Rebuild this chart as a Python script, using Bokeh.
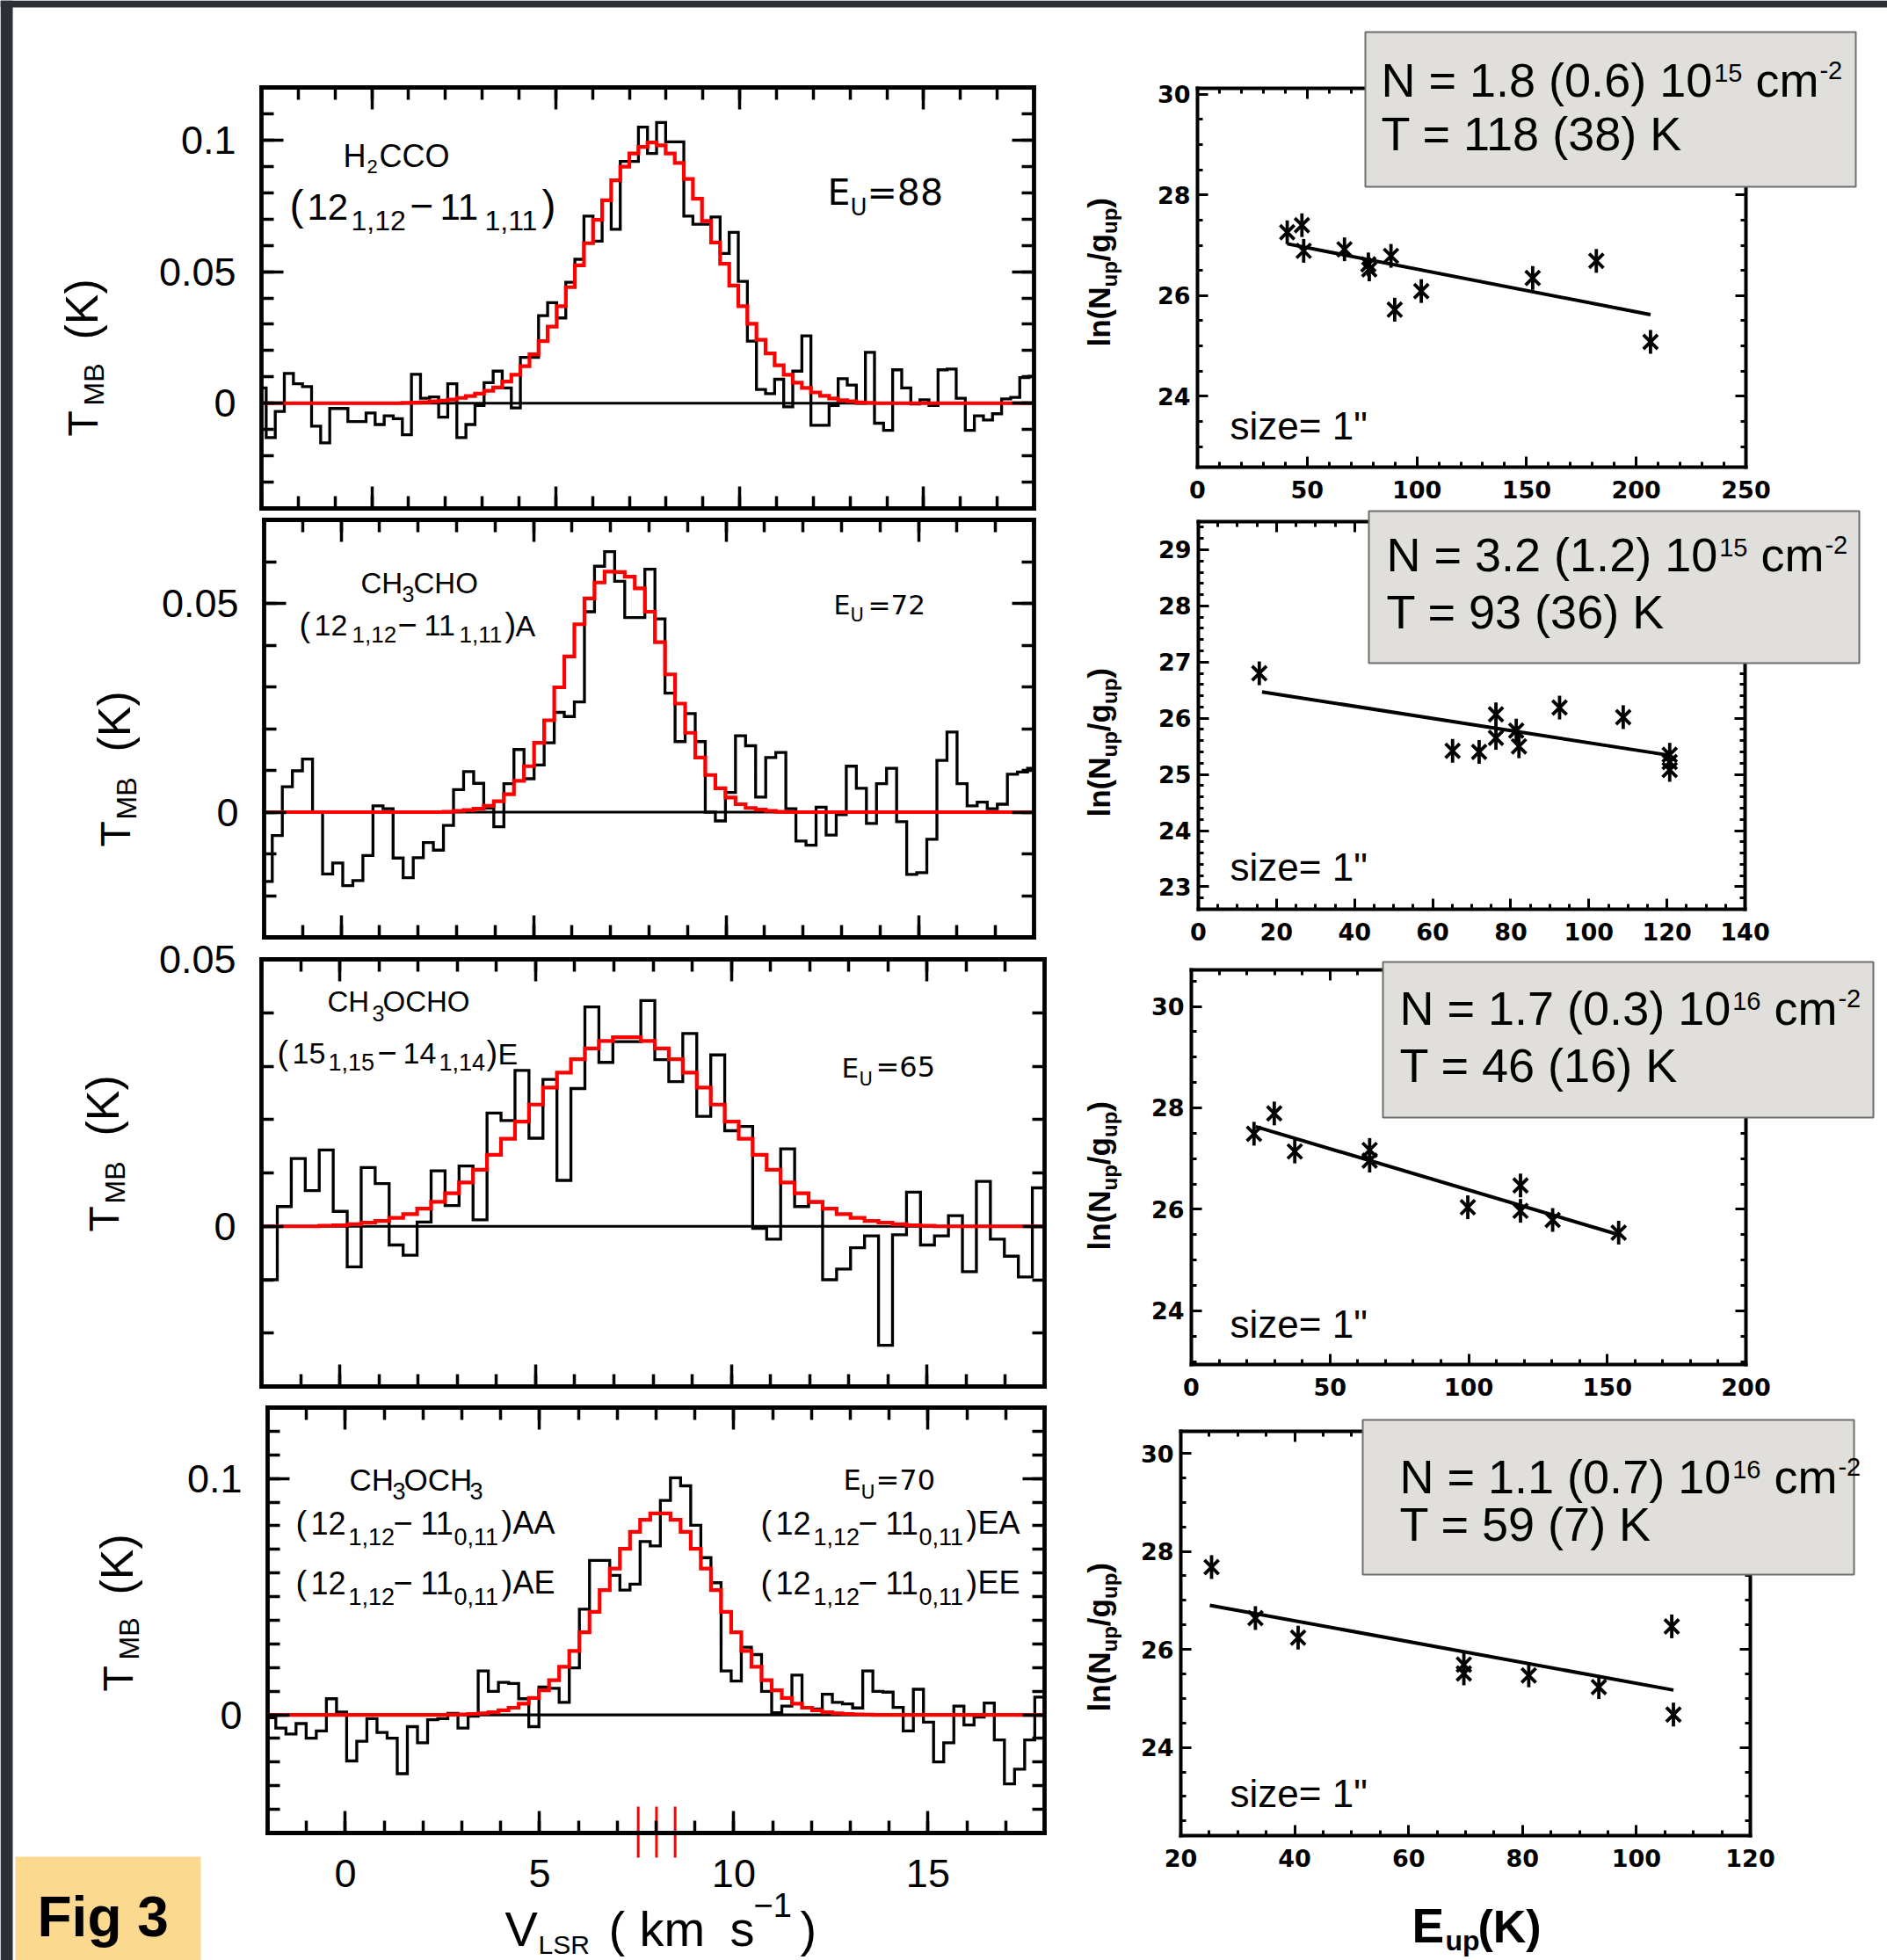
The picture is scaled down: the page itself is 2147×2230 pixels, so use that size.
import numpy as np
from bokeh.plotting import figure
from bokeh.models import (Range1d, LinearAxis, SingleIntervalTicker, NumeralTickFormatter,
                          CustomJSTickFormatter, Label, BoxAnnotation)
from bokeh.embed import file_html
from bokeh.resources import INLINE

# ---------------------------------------------------------------- data
# spectra: channel grid (first channel left edge, channel width) in km/s, T_MB in K
h2cco_chan = (-3.119, 0.2468)
h2cco_obs = [0.0058, -0.0131, -0.0031, 0.0113, 0.0074, 0.0063, -0.0087, -0.0151, -0.0020, -0.0020,
             -0.0070, -0.0070, -0.0037, -0.0081, -0.0048, -0.0059, -0.0120, 0.0110, 0.0019, 0.0024,
             -0.0053, 0.0074, -0.0131, -0.0081, -0.0009, 0.0078, 0.0122, 0.0058, -0.0018, 0.0174,
             0.0174, 0.0333, 0.0382, 0.0324, 0.0460, 0.0547, 0.0711, 0.0616, 0.0772, 0.0661,
             0.0919, 0.0919, 0.1049, 0.0949, 0.1067, 0.0993, 0.0993, 0.0711, 0.0680, 0.0680,
             0.0708, 0.0569, 0.0649, 0.0463, 0.0236, 0.0052, 0.0036, 0.0091, -0.0014, 0.0122,
             0.0256, -0.0084, -0.0084, -0.0009, 0.0093, 0.0069, 0.0000, 0.0193, -0.0076, -0.0103,
             0.0127, 0.0058, -0.0003, 0.0013, -0.0009, 0.0127, 0.0130, 0.0019, -0.0103, -0.0048,
             -0.0064, -0.0040, 0.0016, 0.0022, 0.0097, 0.0102, -0.0109]
h2cco_fit = [0, 0, 0, 0, 0, 0, 0, 0, 0, 0, 0, 0, 0, 0, 0, 0,
             0.0001, 0.0002, 0.0004, 0.0007, 0.0010, 0.0014, 0.0020, 0.0027, 0.0036, 0.0047,
             0.0060, 0.0082, 0.0108, 0.0141, 0.0186, 0.0236, 0.0291, 0.0369, 0.0441, 0.0524,
             0.0608, 0.0697, 0.0771, 0.0847, 0.0899, 0.0949, 0.0974, 0.0991, 0.0980, 0.0949,
             0.0913, 0.0852, 0.0777, 0.0693, 0.0611, 0.0530, 0.0447, 0.0369, 0.0302, 0.0241,
             0.0189, 0.0144, 0.0108, 0.0078, 0.0058, 0.0041, 0.0028, 0.0018, 0.0011, 0.0007,
             0.0003, 0.0001,
             0, 0, 0, 0, 0, 0, 0, 0, 0, 0, 0, 0, 0, 0, 0, 0, 0, 0, 0]

ch3cho_chan = (-2.05, 0.2616)
ch3cho_obs = [-0.0166, -0.0056, 0.0061, 0.0099, 0.0127, 0.0000, -0.0148, -0.0122, -0.0176, -0.0164,
              -0.0104, 0.0015, 0.0008, -0.0110, -0.0157, -0.0109, -0.0073, -0.0091, -0.0032, 0.0054,
              0.0097, 0.0069, 0.0010, -0.0035, 0.0068, 0.0150, 0.0080, 0.0113, 0.0166, 0.0239,
              0.0229, 0.0264, 0.0480, 0.0589, 0.0624, 0.0553, 0.0466, 0.0466, 0.0582, 0.0463,
              0.0285, 0.0169, 0.0236, 0.0169, 0.0000, -0.0021, 0.0047, 0.0183, 0.0159, 0.0036,
              0.0131, 0.0143, 0.0008, -0.0069, -0.0079, 0.0012, -0.0055, -0.0006, 0.0110, 0.0057,
              -0.0027, 0.0068, 0.0105, -0.0023, -0.0149, -0.0145, -0.0065, 0.0124, 0.0192, 0.0068,
              0.0015, 0.0024, 0.0008, 0.0019, 0.0091, 0.0096, 0.0105]
ch3cho_fit = [0, 0, 0, 0, 0, 0, 0, 0, 0, 0, 0, 0, 0, 0, 0, 0, 0, 0,
              0.0001, 0.0003, 0.0005, 0.0008, 0.0015, 0.0026, 0.0043, 0.0075, 0.0110, 0.0166,
              0.0220, 0.0299, 0.0373, 0.0450, 0.0512, 0.0550, 0.0576, 0.0575, 0.0564, 0.0536,
              0.0480, 0.0407, 0.0330, 0.0260, 0.0190, 0.0131, 0.0089, 0.0057, 0.0035, 0.0019,
              0.0010, 0.0006, 0.0003, 0.0001,
              0, 0, 0, 0, 0, 0, 0, 0, 0, 0, 0, 0, 0, 0, 0, 0, 0, 0, 0, 0, 0, 0, 0, 0, 0]

ch3ocho_chan = (-1.953, 0.3571)
ch3ocho_obs = [-0.0100, 0.0037, 0.0127, 0.0067, 0.0143, 0.0028, -0.0076, 0.0110, 0.0080, -0.0035,
               -0.0054, 0.0008, 0.0104, 0.0039, 0.0113, 0.0012, 0.0212, 0.0198, 0.0292, 0.0165,
               0.0275, 0.0086, 0.0258, 0.0411, 0.0307, 0.0346, 0.0346, 0.0423, 0.0312, 0.0271,
               0.0361, 0.0206, 0.0321, 0.0179, 0.0187, -0.0004, -0.0024, 0.0145, 0.0037, 0.0045,
               -0.0100, -0.0080, -0.0040, -0.0018, -0.0223, -0.0016, 0.0064, -0.0035, -0.0018, 0.0020,
               -0.0085, 0.0084, -0.0024, -0.0056, -0.0095, 0.0072]
ch3ocho_fit = [0, 0, 0, 0,
               0.0001, 0.0002, 0.0004, 0.0007, 0.0010, 0.0016, 0.0023, 0.0033, 0.0046, 0.0062,
               0.0082, 0.0106, 0.0134, 0.0164, 0.0196, 0.0228, 0.0260, 0.0288, 0.0313, 0.0333,
               0.0347, 0.0354, 0.0354, 0.0347, 0.0333, 0.0313, 0.0288, 0.0260, 0.0228, 0.0196,
               0.0164, 0.0134, 0.0106, 0.0082, 0.0062, 0.0046, 0.0033, 0.0023, 0.0016, 0.0010,
               0.0007, 0.0004, 0.0002, 0.0001,
               0, 0, 0, 0, 0, 0, 0, 0]

ch3och3_chan = (-2.05, 0.2605)
ch3och3_obs = [-0.0012, -0.0056, -0.0081, -0.0037, -0.0099, -0.0068, 0.0068, 0.0012, -0.0195, -0.0112,
               -0.0016, -0.0075, -0.0099, -0.0249, -0.0050, -0.0118, -0.0021, -0.0016, 0.0006, -0.0056,
               -0.0006, 0.0186, 0.0099, 0.0137, 0.0133, 0.0068, -0.0050, 0.0118, 0.0112, 0.0053,
               0.0199, 0.0447, 0.0653, 0.0653, 0.0590, 0.0528, 0.0553, 0.0733, 0.0715, 0.0907,
               0.1003, 0.0969, 0.0802, 0.0665, 0.0559, 0.0186, 0.0143, 0.0286, 0.0255, 0.0099,
               0.0009, 0.0037, 0.0168, 0.0031, 0.0025, 0.0087, 0.0053, 0.0046, 0.0029, 0.0186,
               0.0099, 0.0096, 0.0031, -0.0068, 0.0108, -0.0031, -0.0199, -0.0118, 0.0037, -0.0043,
               -0.0009, 0.0050, -0.0106, -0.0292, -0.0230, -0.0106, 0.0075]
ch3och3_fit = [0, 0, 0, 0, 0, 0, 0, 0, 0, 0, 0, 0, 0, 0, 0, 0, 0, 0,
               0.0001, 0.0002, 0.0004, 0.0006, 0.0011, 0.0019, 0.0030, 0.0047, 0.0071, 0.0104,
               0.0147, 0.0203, 0.0270, 0.0349, 0.0436, 0.0528, 0.0619, 0.0703, 0.0774, 0.0825,
               0.0852, 0.0852, 0.0825, 0.0774, 0.0703, 0.0619, 0.0528, 0.0436, 0.0349, 0.0270,
               0.0203, 0.0147, 0.0104, 0.0071, 0.0047, 0.0030, 0.0019, 0.0011, 0.0006, 0.0004,
               0.0002, 0.0001,
               0, 0, 0, 0, 0, 0, 0, 0, 0, 0, 0, 0, 0, 0, 0, 0, 0]
ch3och3_line_v = [7.54, 8.01, 8.49]

# rotation diagrams: E_up (K), ln(N_up/g_up), and the fitted line end points
h2cco_eup = [40.9, 47.6, 48.4, 67.0, 77.9, 78.3, 88.2, 89.9, 102.0, 152.8, 181.8, 206.5]
h2cco_ln = [27.26, 27.40, 26.89, 26.92, 26.62, 26.52, 26.79, 25.72, 26.09, 26.35, 26.69, 25.08]
h2cco_fit_e = [40.9, 206.5]
h2cco_fit_ln = [27.03, 25.62]

ch3cho_eup = [15.6, 65.1, 71.9, 76.2, 76.2, 81.4, 82.1, 92.5, 108.8, 120.7, 120.7, 120.7]
ch3cho_ln = [26.80, 25.42, 25.40, 26.07, 25.65, 25.78, 25.50, 26.19, 26.02, 25.35, 25.22, 25.08]
ch3cho_fit_e = [16.3, 120.7]
ch3cho_fit_ln = [26.47, 25.34]

ch3ocho_eup = [22.6, 29.9, 37.3, 64.3, 64.3, 99.7, 118.7, 118.7, 130.3, 154.1]
ch3ocho_ln = [27.49, 27.89, 27.14, 27.17, 26.96, 26.04, 26.47, 25.97, 25.79, 25.54]
ch3ocho_fit_e = [23.2, 154.1]
ch3ocho_fit_ln = [27.63, 25.50]

ch3och3_eup = [25.4, 33.1, 40.6, 69.7, 69.7, 81.1, 93.4, 106.2, 106.5]
ch3och3_ln = [27.68, 26.64, 26.24, 25.69, 25.51, 25.47, 25.23, 26.47, 24.67]
ch3och3_fit_e = [25.1, 106.5]
ch3och3_fit_ln = [26.90, 25.17]

box_texts = [("N = 1.8 (0.6) 10", "15", "T = 118 (38) K"),
             ("N = 3.2 (1.2) 10", "15", "T = 93 (36) K"),
             ("N = 1.7 (0.3) 10", "16", "T = 46 (16) K"),
             ("N = 1.1 (0.7) 10", "16", "T = 59 (7) K")]

# ---------------------------------------------------------------- page canvas
W, H = 2147, 2230
FONT = "Liberation Sans"
WIDE = "DejaVu Sans"
DARK = "#2c3038"
MINUS = "\u2212"

p = figure(width=W, height=H, x_range=Range1d(0, W), y_range=Range1d(H, 0),
           min_border_left=0, min_border_right=0, min_border_top=0, min_border_bottom=0,
           x_axis_location=None, y_axis_location=None, toolbar_location=None,
           output_backend="svg", title=None)
p.grid.visible = False
p.outline_line_color = None
p.background_fill_color = "white"
p.border_fill_color = "white"

PANELS = {}
xranges, yranges = {}, {}


def panel(name, l, t, r, b, xr, yr):
    x0, x1 = xr
    y0, y1 = yr
    sx = (x1 - x0) / (r - l)
    sy = (y1 - y0) / (b - t)
    xranges[name + "x"] = Range1d(x0 - l * sx, x1 + (W - r) * sx)
    yranges[name + "y"] = Range1d(y0 - (H - b) * sy, y1 + t * sy)
    PANELS[name] = (xr, yr)


panel("L1", 297, 99, 1176, 578, (-3.0, 18.0), (-0.04, 0.12))
panel("L2", 300, 591, 1176, 1066, (-2.0, 18.0), (-0.03, 0.07))
panel("L3", 297, 1091, 1188, 1577, (-2.0, 18.0), (-0.03, 0.05))
panel("L4", 304, 1601, 1188, 2085, (-2.0, 18.0), (-0.05, 0.13))
panel("R1", 1362, 100, 1986, 531, (0.0, 250.0), (22.59, 30.12))
panel("R2", 1363, 593, 1985, 1034, (0.0, 140.0), (22.6, 29.5))
panel("R3", 1355, 1103, 1986, 1552, (0.0, 200.0), (22.94, 30.72))
panel("R4", 1343, 1628, 1991, 2088, (20.0, 120.0), (22.2, 30.45))
p.extra_x_ranges = xranges
p.extra_y_ranges = yranges


def kw(name):
    return dict(x_range_name=name + "x", y_range_name=name + "y")


def frame_axes(name, xt, xm, yt, ym, show_x, maj, mnr, lw, tlw, font, size, xsize, style, xs, ys, yfmt=None):
    xr, yr = PANELS[name]
    for side, loc, bounds, tick, nminor, show, stand, fmt, fs in [
            ("below", yr[0], xr, xt, xm, show_x, xs, None, xsize),
            ("above", yr[1], xr, xt, xm, False, 0, None, size),
            ("left", xr[0], yr, yt, ym, True, ys, yfmt, size),
            ("right", xr[1], yr, yt, ym, False, 0, None, size)]:
        ax = LinearAxis(fixed_location=loc, bounds=bounds,
                        ticker=SingleIntervalTicker(interval=tick, num_minor_ticks=nminor), **kw(name))
        ax.axis_line_color = "black"
        ax.axis_line_width = lw
        ax.axis_line_cap = "square"
        ax.major_tick_in = maj
        ax.major_tick_out = 0
        ax.minor_tick_in = mnr
        ax.minor_tick_out = 0
        ax.major_tick_line_width = tlw
        ax.minor_tick_line_width = tlw
        ax.major_tick_line_color = "black"
        ax.minor_tick_line_color = "black"
        if show:
            ax.major_label_text_font = font
            ax.major_label_text_font_size = f"{fs}px"
            ax.major_label_text_font_style = style
            ax.major_label_text_color = "black"
            ax.major_label_standoff = stand
            if fmt is not None:
                ax.formatter = fmt
        else:
            ax.major_label_text_font_size = "0px"
            ax.major_label_standoff = 0
            ax.formatter = CustomJSTickFormatter(code="return ''")
        p.add_layout(ax, side)


def steps(chan, vals, xr):
    vals = np.asarray(vals, dtype=float)
    edges = np.clip(chan[0] + chan[1] * np.arange(len(vals) + 1), xr[0], xr[1])
    return np.repeat(edges, 2)[1:-1], np.repeat(vals, 2)


def spectrum(name, chan, obs, fit, ytick, show_x):
    xr, yr = PANELS[name]
    p.line(list(xr), [0, 0], line_color="black", line_width=3.2, **kw(name))
    xs, ys = steps(chan, obs, xr)
    p.line(xs, ys, line_color="black", line_width=3.3, line_join="miter", **kw(name))
    xs, ys = steps(chan, fit, xr)
    p.line(xs, ys, line_color="red", line_width=4.2, line_join="miter", **kw(name))
    frame_axes(name, 5, 5, ytick, int(round(ytick / 0.01)), show_x, 25, 14, 4.8, 3.5,
               FONT, 45, 45, "normal", 30, 29, NumeralTickFormatter(format="0.[00]"))


def rotation(name, eup, lnv, fe, fl_, xt, xm, yt, ym):
    p.line(fe, fl_, line_color="black", line_width=4, **kw(name))
    p.scatter(eup, lnv, marker="x", size=23, line_width=3.8, line_color="black", **kw(name))
    p.scatter(eup, lnv, marker="dash", angle=np.pi / 2, size=27, line_width=3.8, line_color="black", **kw(name))
    frame_axes(name, xt, xm, yt, ym, True, 12, 6, 4, 3, WIDE, 27, 27, "bold", 15, 8)


AR = {c: 0.556 for c in "0123456789"}
AR.update({" ": 0.278, "(": 0.333, ")": 0.333, ".": 0.278, ",": 0.278, "=": 0.584, "-": 0.333,
           MINUS: 0.584, "/": 0.278, '"': 0.355, "N": 0.722, "T": 0.611, "K": 0.667, "c": 0.5,
           "m": 0.833, "s": 0.5})
AB = {c: 0.556 for c in "0123456789"}
AB.update({" ": 0.278, "(": 0.333, ")": 0.333, "/": 0.278, "l": 0.278, "n": 0.611, "N": 0.722,
           "u": 0.611, "p": 0.611, "g": 0.611, "E": 0.667, "K": 0.722})


def tw(text, size, bold=False):
    t = AB if bold else AR
    return sum(t.get(c, 0.6) for c in text) * size


BASE_SHIFT = 0.35   # the renderer sets the glyph baseline this many em below the anchor


def put(text, X, Y, size, font=FONT, bold=False, angle=0.0, color="black"):
    # (X, Y) is the wanted baseline start in page pixels
    if angle == 0.0:
        Y = Y - BASE_SHIFT * size
    else:
        X = X - BASE_SHIFT * size
    p.add_layout(Label(x=X, y=Y, text=text, text_font=font, text_font_size=f"{size}px",
                       text_font_style="bold" if bold else "normal", text_color=color,
                       text_baseline="alphabetic", text_align="left", angle=angle))


def box(X0, Y0, X1, Y1, fill, line=None, lw=0):
    p.add_layout(BoxAnnotation(left=X0, right=X1, top=Y0, bottom=Y1, fill_color=fill, fill_alpha=1.0,
                               line_color=line if line else fill, line_width=lw if line else 0,
                               line_alpha=1.0 if line else 0.0))


# ---------------------------------------------------------------- spectra
spectrum("L1", h2cco_chan, h2cco_obs, h2cco_fit, 0.05, False)
spectrum("L2", ch3cho_chan, ch3cho_obs, ch3cho_fit, 0.05, False)
spectrum("L3", ch3ocho_chan, ch3ocho_obs, ch3ocho_fit, 0.05, False)
spectrum("L4", ch3och3_chan, ch3och3_obs, ch3och3_fit, 0.1, True)

# velocity component marks crossing the bottom axis of the last spectrum
p.segment(x0=ch3och3_line_v, y0=[2055] * 3, x1=ch3och3_line_v, y1=[2113] * 3,
          x_range_name="L4x", line_color="red", line_width=3)

# ---------------------------------------------------------------- rotation diagrams
rotation("R1", h2cco_eup, h2cco_ln, h2cco_fit_e, h2cco_fit_ln, 50, 5, 2, 4)
rotation("R2", ch3cho_eup, ch3cho_ln, ch3cho_fit_e, ch3cho_fit_ln, 20, 4, 1, 5)
rotation("R3", ch3ocho_eup, ch3ocho_ln, ch3ocho_fit_e, ch3ocho_fit_ln, 50, 5, 2, 4)
rotation("R4", ch3och3_eup, ch3och3_ln, ch3och3_fit_e, ch3och3_fit_ln, 20, 4, 2, 4)

# ---------------------------------------------------------------- page decorations
box(0, 0, W, 8, DARK)
box(0, 0, 14, H, DARK)
box(17, 2112, 228, H, "#fbd98f")
put("Fig 3", 42, 2203, 64, bold=True)

# ---------------------------------------------------------------- spectrum labels
runs = [("H", 390, 190, 36, FONT), ("2", 417, 197, 22, FONT), ("CCO", 431, 190, 36, FONT),
        ("(", 329, 250, 48, FONT), ("12", 349, 250, 42, FONT), ("1,12", 399, 262, 32, FONT),
        (MINUS, 466, 250, 46, FONT), ("11", 500, 250, 42, FONT), ("1,11", 551, 262, 32, FONT),
        (")", 616, 250, 48, FONT),
        ("E", 941, 233, 41, WIDE), ("U", 967, 245, 26, WIDE), ("=88", 986, 233, 41, WIDE),
        # CH3CHO
        ("CH", 410, 675, 33, FONT), ("3", 457, 684, 25, FONT), ("CHO", 470, 675, 33, FONT),
        ("(", 340, 724, 38, FONT), ("12", 357, 723, 34, FONT), ("1,12", 400, 731, 26, FONT),
        (MINUS, 452, 723, 38, FONT), ("11", 482, 723, 34, FONT), ("1,11", 522, 731, 26, FONT),
        (")", 574, 724, 38, FONT), ("A", 586, 723, 34, FONT),
        ("E", 948, 698, 30, WIDE), ("U", 967, 707, 21, WIDE), ("=72", 987, 698, 31, WIDE),
        # CH3OCHO
        ("CH", 372, 1151, 33, FONT), ("3", 423, 1161, 25, FONT), ("OCHO", 435, 1151, 33, FONT),
        ("(", 315, 1211, 38, FONT), ("15", 332, 1210, 34, FONT), ("1,15", 373, 1217, 27, FONT),
        (MINUS, 429, 1210, 38, FONT), ("14", 458, 1210, 34, FONT), ("1,14", 499, 1217, 27, FONT),
        (")", 553, 1211, 38, FONT), ("E", 566, 1210, 34, FONT),
        ("E", 957, 1225, 31, WIDE), ("U", 977, 1235, 21, WIDE), ("=65", 996, 1225, 32, WIDE),
        # CH3OCH3
        ("CH", 397, 1695, 35, FONT), ("3", 446, 1705, 27, FONT), ("OCH", 459, 1695, 35, FONT),
        ("3", 534, 1705, 27, FONT),
        ("E", 959, 1695, 32, WIDE), ("U", 979, 1705, 22, WIDE), ("=70", 996, 1695, 32, WIDE)]
for base, suffixes in [(1745, ("AA", "EA")), (1813, ("AE", "EE"))]:
    for x0, suf in [(336, suffixes[0]), (865, suffixes[1])]:
        dx = x0 - 336
        runs += [("(", 336 + dx, base + 1, 38, FONT), ("12", 353 + dx, base, 36, FONT),
                 ("1,12", 396 + dx, base + 12, 27, FONT), (MINUS, 447 + dx, base, 38, FONT),
                 ("11", 478 + dx, base, 36, FONT), ("0,11", 516 + dx, base + 12, 27, FONT),
                 (")", 570 + dx, base + 1, 38, FONT), (suf, 583 + dx, base, 36, FONT)]
for t, X, Y, s, f in runs:
    put(t, X, Y, s, f)

# x title of the spectra
for t, X, Y, s in [("V", 574, 2214, 56), ("LSR", 612, 2222, 30), ("(", 692, 2214, 56), ("km", 727, 2214, 56),
                   ("s", 830, 2214, 56), (MINUS + "1", 857, 2180, 38), (")", 910, 2214, 56)]:
    put(t, X, Y, s)

# y titles of the spectra (rotated, reading upwards)
for X, yT, yMB, yK in [(111, 496, 461, 386), (148, 963, 932, 855), (135, 1401, 1369, 1292), (151, 1924, 1888, 1814)]:
    put("T", X, yT, 48, angle=np.pi / 2)
    put("MB", X + 7, yMB, 32, angle=np.pi / 2)
    put("(K)", X, yK, 52, angle=np.pi / 2)

# ---------------------------------------------------------------- rotation-diagram annotations
BOX_FILL = "#e0dfdb"
BOX_LINE = "#6e6e6e"
box_geo = [((1553, 36, 2111, 212), (1571, 109, 170)),
           ((1557, 581, 2115, 754), (1577, 649, 714)),
           ((1573, 1094, 2131, 1271), (1592, 1165, 1230)),
           ((1550, 1615, 2109, 1791), (1592, 1698, 1752))]
size_y = [499, 1001, 1521, 2055]
ln_start = [394, 929, 1422, 1947]
MAIN = 54
SUP = 29
for (bx, (tx, ny, ty)), (ntxt, expo, ttxt), sy, ls in zip(box_geo, box_texts, size_y, ln_start):
    box(bx[0], bx[1], bx[2], bx[3], BOX_FILL, BOX_LINE, 2)
    put(ntxt, tx, ny, MAIN)
    xe = tx + tw(ntxt, MAIN) + 2
    put(expo, xe, ny - 16, SUP)
    xc = xe + tw(expo, SUP) + tw(" ", MAIN)
    put("cm", xc, ny, MAIN)
    put("-2", xc + tw("cm", MAIN) + 1, ny - 19, SUP)
    put(ttxt, tx, ty, MAIN)
    put("size= 1\"", 1399, sy, 44)
    Y = ls
    for t, s, off in [("ln(N", 35, 0), ("up", 24, 8), ("/g", 35, 0), ("up", 24, 8), (")", 35, 0)]:
        put(t, 1262 + off, Y, s, bold=True, angle=np.pi / 2)
        Y -= tw(t, s, bold=True)

# x title of the rotation diagrams
put("E", 1606, 2210, 55, bold=True)
put("up", 1644, 2219, 32, bold=True)
put("(K)", 1681, 2210, 52, bold=True)

open("out.html", "w").write(file_html(p, INLINE, "Fig 3"))
